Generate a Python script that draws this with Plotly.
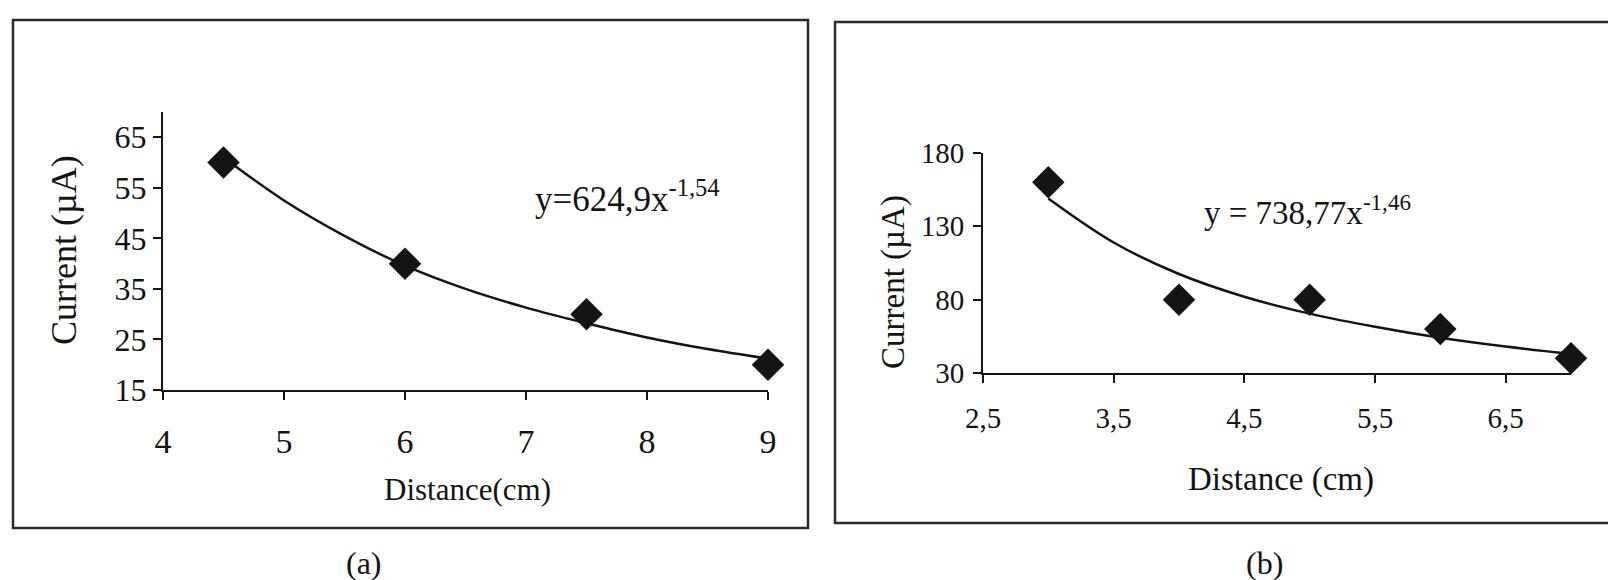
import plotly.graph_objects as go

W, H = 1608, 580

# ---- data (a) ----
dist_a = [4.5, 6, 7.5, 9]
curr_a = [60, 40, 30, 20]
fit_x_a = [4.5, 5, 5.5, 6, 6.5, 7, 7.5, 8, 8.5, 9]
fit_y_a = [61, 52.5, 45.5, 39.6, 35, 31.3, 28.2, 25.4, 23.1, 21.2]
xticks_a = [4, 5, 6, 7, 8, 9]
yticks_a = [15, 25, 35, 45, 55, 65]

# ---- data (b) ----
dist_b = [3, 4, 5, 6, 7]
curr_b = [160, 80, 80, 60, 40]
fit_x_b = [3, 3.5, 4, 4.5, 5, 5.5, 6, 6.5, 7]
fit_y_b = [149, 119, 97.5, 82, 70.5, 61.5, 54, 48, 43]
xticks_b = [2.5, 3.5, 4.5, 5.5, 6.5]
xticktext_b = ["2,5", "3,5", "4,5", "5,5", "6,5"]
yticks_b = [30, 80, 130, 180]

FONT = "Liberation Serif"
INK = "#141414"


def px(x):
    return x / W


def py(y):
    return 1 - y / H


fig = go.Figure()

marker = dict(symbol="diamond", size=25, color=INK, line=dict(width=0))
fig.add_trace(go.Scatter(x=fit_x_a, y=fit_y_a, mode="lines", line=dict(color=INK, width=2.5, shape="spline"),
                         xaxis="x", yaxis="y", showlegend=False, cliponaxis=False))
fig.add_trace(go.Scatter(x=dist_a, y=curr_a, mode="markers", marker=marker,
                         xaxis="x", yaxis="y", showlegend=False, cliponaxis=False))
fig.add_trace(go.Scatter(x=fit_x_b, y=fit_y_b, mode="lines", line=dict(color=INK, width=2.5, shape="spline"),
                         xaxis="x2", yaxis="y2", showlegend=False, cliponaxis=False))
fig.add_trace(go.Scatter(x=dist_b, y=curr_b, mode="markers", marker=marker,
                         xaxis="x2", yaxis="y2", showlegend=False, cliponaxis=False))

axis_common = dict(showline=True, linecolor=INK, linewidth=2, showgrid=False, zeroline=False,
                   ticks="outside", ticklen=8, tickwidth=1.5, tickcolor=INK, fixedrange=True,
                   automargin=False)

fig.update_layout(
    width=W, height=H,
    margin=dict(l=0, r=0, t=0, b=0, pad=0, autoexpand=False),
    paper_bgcolor="white", plot_bgcolor="white",
    font=dict(family=FONT, color=INK),
    xaxis=dict(domain=[px(163), px(768)], anchor="y", range=[4, 9], tickvals=xticks_a,
               tickfont=dict(size=34, family=FONT), ticklabelstandoff=12, **axis_common),
    yaxis=dict(domain=[py(390), py(112)], anchor="x", range=[15, 70], tickvals=yticks_a,
               tickfont=dict(size=32, family=FONT), ticklabelstandoff=0, **axis_common),
    xaxis2=dict(domain=[px(983), px(1571)], anchor="y2", range=[2.5, 7], tickvals=xticks_b,
                ticktext=xticktext_b, tickfont=dict(size=29, family=FONT), ticklabelstandoff=10, **axis_common),
    yaxis2=dict(domain=[py(373), py(153)], anchor="x2", range=[30, 180], tickvals=yticks_b,
                tickfont=dict(size=29, family=FONT), ticklabelstandoff=3, **axis_common),
)

# frames around the two panels
fig.add_shape(type="rect", xref="paper", yref="paper", x0=px(13), x1=px(808), y0=py(528), y1=py(20),
              line=dict(color="#2a2a2a", width=2.5), fillcolor="rgba(0,0,0,0)", layer="below")
fig.add_shape(type="rect", xref="paper", yref="paper", x0=px(835), x1=px(1620), y0=py(523), y1=py(22),
              line=dict(color="#2a2a2a", width=2.5), fillcolor="rgba(0,0,0,0)", layer="below")

ann = [
    # axis titles (a)
    dict(text="Current (µA)", x=px(64), y=py(250), textangle=-90, font=dict(size=36)),
    dict(text="Distance(cm)", x=px(467), y=py(489), font=dict(size=31)),
    # axis titles (b)
    dict(text="Current (µA)", x=px(893), y=py(282), textangle=-90, font=dict(size=33)),
    dict(text="Distance (cm)", x=px(1281), y=py(479), font=dict(size=33)),
    # equations
    dict(text="y=624,9x<sup>-1,54</sup>", x=px(533), y=py(196), xanchor="left", font=dict(size=35)),
    dict(text="y = 738,77x<sup>-1,46</sup>", x=px(1202), y=py(210), xanchor="left", font=dict(size=33)),
    # captions
    dict(text="(a)", x=px(364), y=py(563), font=dict(size=32)),
    dict(text="(b)", x=px(1264), y=py(563), font=dict(size=32)),
]
for a in ann:
    a.setdefault("xanchor", "center")
    a.setdefault("yanchor", "middle")
    a["font"] = dict(family=FONT, color=INK, **a["font"])
    fig.add_annotation(xref="paper", yref="paper", showarrow=False, **a)

fig.write_html("out.html")
